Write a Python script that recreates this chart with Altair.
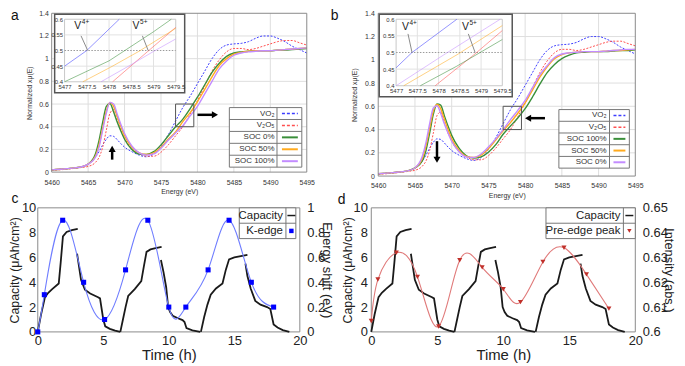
import altair as alt
import pandas as pd

FONT = "Liberation Sans, DejaVu Sans, Arial, sans-serif"

# ---------------- XANES spectra (panels a, b) ----------------
energy = [5460, 5462, 5464, 5465, 5466, 5466.5, 5467, 5467.5, 5468, 5468.5, 5469, 5469.5, 5470, 5471, 5472,
          5473, 5474, 5475, 5476, 5477, 5478, 5479, 5480, 5481, 5482, 5483, 5484, 5485, 5486, 5487,
          5488, 5489, 5490, 5491, 5492, 5493, 5494, 5495]
vo2 = [0.02, 0.03, 0.045, 0.07, 0.13, 0.18, 0.24, 0.29, 0.32, 0.315, 0.285, 0.25, 0.22, 0.18, 0.15,
       0.135, 0.16, 0.23, 0.33, 0.45, 0.57, 0.67, 0.78, 0.89, 1.0, 1.08, 1.12, 1.13, 1.135, 1.15,
       1.18, 1.2, 1.2, 1.18, 1.15, 1.11, 1.08, 1.05]
v2o5 = [0.015, 0.025, 0.04, 0.05, 0.085, 0.13, 0.22, 0.37, 0.52, 0.55, 0.46, 0.37, 0.30, 0.21, 0.165,
        0.14, 0.14, 0.175, 0.24, 0.32, 0.40, 0.51, 0.63, 0.76, 0.89, 0.99, 1.06, 1.09, 1.09, 1.08,
        1.09, 1.11, 1.13, 1.15, 1.16, 1.16, 1.14, 1.12]
a_soc0 = [0.02, 0.03, 0.045, 0.07, 0.16, 0.28, 0.44, 0.58, 0.605, 0.53, 0.44, 0.36, 0.29, 0.20, 0.16,
          0.155, 0.18, 0.24, 0.32, 0.40, 0.467, 0.56, 0.66, 0.77, 0.88, 0.96, 1.02, 1.05, 1.06, 1.065,
          1.07, 1.07, 1.07, 1.075, 1.075, 1.08, 1.085, 1.09]
a_soc50 = [0.02, 0.03, 0.045, 0.07, 0.14, 0.24, 0.39, 0.54, 0.615, 0.58, 0.49, 0.40, 0.32, 0.22, 0.17,
           0.155, 0.17, 0.22, 0.29, 0.355, 0.445, 0.525, 0.62, 0.73, 0.84, 0.94, 1.0, 1.04, 1.055, 1.065,
           1.07, 1.07, 1.07, 1.075, 1.08, 1.085, 1.09, 1.095]
a_soc100 = [0.02, 0.03, 0.045, 0.07, 0.13, 0.22, 0.37, 0.52, 0.615, 0.60, 0.51, 0.42, 0.34, 0.23, 0.17,
            0.15, 0.16, 0.21, 0.28, 0.345, 0.41, 0.495, 0.58, 0.69, 0.80, 0.91, 0.98, 1.03, 1.05, 1.06,
            1.065, 1.07, 1.07, 1.075, 1.08, 1.085, 1.09, 1.095]
b_soc100 = [0.02, 0.03, 0.045, 0.07, 0.13, 0.22, 0.37, 0.53, 0.62, 0.61, 0.52, 0.43, 0.35, 0.24, 0.175,
            0.155, 0.165, 0.205, 0.27, 0.36, 0.43, 0.50, 0.58, 0.68, 0.79, 0.89, 0.96, 1.01, 1.04, 1.06,
            1.065, 1.07, 1.07, 1.07, 1.075, 1.08, 1.08, 1.085]
b_soc50 = [0.02, 0.03, 0.045, 0.07, 0.15, 0.26, 0.41, 0.56, 0.615, 0.58, 0.49, 0.40, 0.32, 0.22, 0.17,
           0.16, 0.18, 0.235, 0.31, 0.39, 0.46, 0.54, 0.63, 0.74, 0.85, 0.94, 1.01, 1.045, 1.06, 1.065,
           1.07, 1.07, 1.07, 1.075, 1.08, 1.08, 1.085, 1.09]
b_soc0 = [0.02, 0.03, 0.045, 0.07, 0.17, 0.29, 0.45, 0.585, 0.605, 0.54, 0.45, 0.37, 0.30, 0.21, 0.165,
          0.16, 0.19, 0.25, 0.32, 0.40, 0.485, 0.565, 0.65, 0.76, 0.87, 0.95, 1.02, 1.05, 1.06, 1.065,
          1.07, 1.07, 1.07, 1.075, 1.08, 1.085, 1.09, 1.09]
energy_ticks = [5460, 5465, 5470, 5475, 5480, 5485, 5490, 5495]
xmu_ticks = [0, 0.2, 0.4, 0.6, 0.8, 1.0, 1.2, 1.4]

# inset (zoom window) readings
inset_e_domain = [5477, 5479.5]
inset_v_domain = [0.4, 0.6]
inset_e_ticks = [5477, 5477.5, 5478, 5478.5, 5479, 5479.5]
inset_v_ticks = [0.4, 0.45, 0.5, 0.55, 0.6]
ia_vo2_e, ia_vo2_v = [5477, 5477.5, 5478.23], [0.45, 0.50, 0.60]
ia_v2o5_e, ia_v2o5_v = [5478.08, 5478.87, 5479.5], [0.40, 0.497, 0.574]
ia_soc0_e, ia_soc0_v = [5477, 5478, 5479, 5479.4], [0.40, 0.467, 0.56, 0.60]
ia_soc50_e, ia_soc50_v = [5477.41, 5478.04, 5478.68, 5479.5], [0.40, 0.447, 0.498, 0.571]
ia_soc100_e, ia_soc100_v = [5477.82, 5478.5, 5479.0, 5479.5], [0.40, 0.455, 0.497, 0.537]
ib_vo2_e, ib_vo2_v = [5477, 5477.375, 5478.43], [0.454, 0.5, 0.6]
ib_v2o5_e, ib_v2o5_v = [5477.92, 5478.86, 5479.5], [0.40, 0.496, 0.566]
ib_soc100_e, ib_soc100_v = [5477.57, 5478.43, 5479.5], [0.40, 0.459, 0.539]
ib_soc50_e, ib_soc50_v = [5477.18, 5478.47, 5479.5], [0.40, 0.496, 0.581]
ib_soc0_e, ib_soc0_v = [5477, 5478.16, 5479.45], [0.40, 0.496, 0.60]

# ---------------- cycling (panels c, d) ----------------
cap_segments_t = [
    [0, 0.25, 0.55, 0.8, 1.1, 1.6, 1.75, 1.92, 2.2, 2.6, 3.05],
    [3.0, 3.3, 3.6, 4.0, 4.6, 4.75, 5.0, 5.15, 5.5, 5.9, 6.3],
    [6.3, 6.5, 6.7, 6.9, 7.4, 7.9, 8.1, 8.3, 8.6, 9.0, 9.45],
    [9.4, 9.6, 9.8, 9.95, 10.1, 10.3, 10.7, 11.05, 11.2, 11.35, 11.8, 12.4],
    [12.45, 12.7, 12.95, 13.2, 13.6, 14.1, 14.35, 14.6, 15.0, 15.5, 16.0],
    [15.85, 16.0, 16.25, 16.6, 17.0, 17.5, 17.75, 18.0, 18.3, 18.7, 19.2],
]
cap_segments_v = [
    [0, 1.4, 2.8, 3.15, 3.45, 3.9, 5.6, 7.7, 8.05, 8.2, 8.3],
    [6.3, 4.2, 3.4, 3.1, 2.8, 2.7, 1.0, 0.45, 0.25, 0.1, 0.0],
    [0, 1.0, 2.0, 2.9, 3.45, 4.1, 5.3, 6.45, 6.65, 6.75, 6.85],
    [5.8, 4.8, 3.6, 2.0, 1.6, 1.3, 1.1, 0.95, 0.8, 0.3, 0.12, 0.0],
    [0, 1.2, 2.2, 3.0, 3.5, 3.9, 5.0, 5.85, 6.0, 6.1, 6.2],
    [5.5, 4.5, 3.5, 2.5, 2.2, 2.0, 1.85, 0.6, 0.35, 0.15, 0.0],
]
xas_time = [0, 0.5, 1.9, 3.5, 5.1, 6.7, 8.4, 10.0, 11.3, 13.0, 14.6, 16.3, 18.0]
kedge_shift = [0, 0.3, 0.9, 0.4, 0.1, 0.5, 0.9, 0.2, 0.2, 0.5, 0.9, 0.4, 0.2]
preedge_int = [0.6044, 0.6211, 0.6319, 0.6222, 0.6022, 0.6289, 0.626, 0.6172, 0.612, 0.6282, 0.6339,
               0.6232, 0.6094]
time_ticks = [0, 5, 10, 15, 20]
cap_ticks = [0, 2, 4, 6, 8, 10]
shift_ticks = [0, 0.2, 0.4, 0.6, 0.8, 1.0]
intensity_ticks = [0.6, 0.61, 0.62, 0.63, 0.64, 0.65]

C_VO2 = "#3d3dff"
C_V2O5 = "#ff5050"
C_GREEN = "#3a8f3a"
C_ORANGE = "#ffaa1e"
C_VIOLET = "#c38cff"

VW, VH = 672, 350
DUMMY = pd.DataFrame({"d": [0]})


def S(domain, rng):
    return alt.Scale(domain=domain, range=rng, nice=False, zero=False)


def vtext(txt, x, y, size, align="center", baseline="middle", color="#222"):
    return alt.Chart(DUMMY).mark_text(text=txt, fontSize=size, align=align, baseline=baseline,
                                      color=color, font=FONT).encode(x=alt.value(x), y=alt.value(y))


def vrule(x1, y1, x2, y2, color="#777", width=1.0, dash=None):
    kw = dict(color=color, strokeWidth=width)
    if dash:
        kw["strokeDash"] = dash
    return alt.Chart(DUMMY).mark_rule(**kw).encode(
        x=alt.value(x1), y=alt.value(y1), x2=alt.value(x2), y2=alt.value(y2))


def vrect(x1, y1, x2, y2, fill="white", stroke="#777", width=1.0):
    return alt.Chart(DUMMY).mark_rect(fill=fill, stroke=stroke, strokeWidth=width).encode(
        x=alt.value(x1), y=alt.value(y1), x2=alt.value(x2), y2=alt.value(y2))


def vpoint(x, y, shape, color, size):
    return alt.Chart(DUMMY).mark_point(shape=shape, filled=True, color=color, size=size, opacity=1).encode(
        x=alt.value(x), y=alt.value(y))


def long_df(series):
    rows = []
    for name, xv, vals, color in series:
        for x, v in zip(xv, vals):
            rows.append({"E": x, "v": v, "s": name, "c": color})
    return pd.DataFrame(rows)


def box_df(x1, x2, y1, y2):
    return pd.DataFrame({"E": [x1], "E2": [x2], "v": [y1], "v2": [y2]})


AB = dict(grid=False, ticks=False, domain=False, labelFontSize=7, titleFontSize=7, labelColor="#333",
          titleColor="#333", titleFontWeight="normal", labelOverlap=False, labelFlush=False, labelBound=False)


def spectra(p):
    (x0, x1), (yb, yt) = p["px"], p["py"]
    xs = S([5460, 5495], [x0, x1])
    ys = S([0, 1.4], [yb, yt])
    xax = alt.Axis(orient="bottom", offset=yb - VH, values=energy_ticks, format="d", title="Energy (eV)",
                   labelPadding=p["xlp"], titlePadding=p["xtp"], **AB)
    yax = alt.Axis(orient="left", offset=-x0, values=xmu_ticks, format="~f", title="Normalized xμ(E)",
                   labelPadding=p["ylp"], titlePadding=p["ytp"], **AB)

    def X(f="E"):
        return alt.X(f"{f}:Q", scale=xs, axis=xax)

    def Y(f="v"):
        return alt.Y(f"{f}:Q", scale=ys, axis=yax)

    gx = alt.Chart(pd.DataFrame({"E": energy_ticks[1:-1]})).mark_rule(color="#dedede", strokeWidth=1).encode(
        x=X(), y=alt.datum(0), y2=alt.datum(1.4))
    gy = alt.Chart(pd.DataFrame({"v": xmu_ticks[1:-1]})).mark_rule(color="#dedede", strokeWidth=1).encode(
        y=Y(), x=alt.datum(5460), x2=alt.datum(5495))
    frame = alt.Chart(box_df(5460, 5495, 0, 1.4)).mark_rect(fill="white", fillOpacity=0, stroke="#8a8a8a",
                                                           strokeWidth=1).encode(
        x=X(), x2="E2:Q", y=Y(), y2="v2:Q")
    ref_df = long_df([("VO2", energy, vo2, C_VO2), ("V2O5", energy, v2o5, C_V2O5)])
    dashed = alt.Chart(ref_df).mark_line(strokeWidth=1, strokeDash=[2, 1.5], interpolate="monotone").encode(
        x=X(), y=Y(), color=alt.Color("c:N", scale=None), detail="s:N")
    solid = alt.Chart(long_df(p["soc"])).mark_line(strokeWidth=1.4, interpolate="monotone").encode(
        x=X(), y=Y(), color=alt.Color("c:N", scale=None), detail="s:N")
    zoom = alt.Chart(box_df(inset_e_domain[0], inset_e_domain[1], inset_v_domain[0], inset_v_domain[1])).mark_rect(
        fill="white", fillOpacity=0, stroke="#555", strokeWidth=1).encode(x=X(), x2="E2:Q", y=Y(), y2="v2:Q")
    main = [gx, gy, dashed, solid, frame, zoom]
    for (ax1, ay1, ax2, ay2, shape) in p["arrows"]:
        main.append(alt.Chart(box_df(ax1, ax2, ay1, ay2)).mark_rule(color="black", strokeWidth=2.5).encode(
            x=X(), x2="E2:Q", y=Y(), y2="v2:Q"))
        main.append(alt.Chart(pd.DataFrame({"E": [ax2], "v": [ay2]})).mark_point(
            shape=shape, filled=True, color="black", size=50, opacity=1).encode(x=X(), y=Y()))
    out = [alt.layer(*main)]

    bx0, bx1, by0, by1 = p["inset_box"]
    out.append(vrect(bx0, by0, bx1, by1, fill="white", stroke="#555", width=1.5))

    # inset
    (ix0, ix1), (iyb, iyt) = p["ipx"], p["ipy"]
    ixs = S(inset_e_domain, [ix0, ix1])
    iys = S(inset_v_domain, [iyb, iyt])
    ic = dict(AB, labelFontSize=6, zindex=1)
    ixax = alt.Axis(orient="bottom", offset=iyb - VH, values=inset_e_ticks, format="~f", title=None,
                    labelPadding=2, **ic)
    iyax = alt.Axis(orient="left", offset=-ix0, values=inset_v_ticks, format="~f", title=None,
                    labelPadding=2, **ic)

    def IX(f="E"):
        return alt.X(f"{f}:Q", scale=ixs, axis=ixax)

    def IY(f="v"):
        return alt.Y(f"{f}:Q", scale=iys, axis=iyax)

    iframe = alt.Chart(box_df(inset_e_domain[0], inset_e_domain[1], inset_v_domain[0], inset_v_domain[1])).mark_rect(
        fill="white", stroke="#c8c8c8", strokeWidth=1).encode(x=IX(), x2="E2:Q", y=IY(), y2="v2:Q")
    igx = alt.Chart(pd.DataFrame({"E": inset_e_ticks[1:-1]})).mark_rule(color="#e2e2e2", strokeWidth=1).encode(
        x=IX(), y=alt.datum(inset_v_domain[0]), y2=alt.datum(inset_v_domain[1]))
    igy = alt.Chart(pd.DataFrame({"v": [0.45, 0.55]})).mark_rule(color="#e2e2e2", strokeWidth=1).encode(
        y=IY(), x=alt.datum(inset_e_domain[0]), x2=alt.datum(inset_e_domain[1]))
    half = alt.Chart(pd.DataFrame({"v": [0.5]})).mark_rule(color="#999", strokeWidth=1,
                                                          strokeDash=[1.5, 1.5]).encode(
        y=IY(), x=alt.datum(inset_e_domain[0]), x2=alt.datum(inset_e_domain[1]))
    ilines = alt.Chart(long_df(p["inset"])).mark_line(strokeWidth=1, opacity=0.55).encode(
        x=IX(), y=IY(), color=alt.Color("c:N", scale=None), detail="s:N")
    ins = [iframe, igx, igy, half, ilines]
    for (tx, ty, lx1, ly1, lx2, ly2, sup) in p["vlabels"]:
        ins.append(alt.Chart(box_df(lx1, lx2, ly1, ly2)).mark_rule(color="#8a8a8a", strokeWidth=1).encode(
            x=IX(), x2="E2:Q", y=IY(), y2="v2:Q"))
        tdf = pd.DataFrame({"E": [tx], "v": [ty]})
        ins.append(alt.Chart(tdf).mark_text(text="V", fontSize=10.5, align="left", baseline="middle",
                                            color="#222", font=FONT).encode(x=IX(), y=IY()))
        ins.append(alt.Chart(tdf).mark_text(text=sup, fontSize=6.5, align="left", baseline="middle",
                                            color="#222", font=FONT, dx=7.5, dy=-4).encode(x=IX(), y=IY()))
    out.append(alt.layer(*ins))

    # legend
    L = p["legend"]
    rows = p["legend_rows"]
    rh = (L["y1"] - L["y0"]) / len(rows)
    out.append(vrect(L["x0"], L["y0"], L["x1"], L["y1"], fill="white", stroke="#777", width=1))
    out.append(vrule(L["xd"], L["y0"], L["xd"], L["y1"], color="#777", width=1))
    for i, (lab, col, dsh) in enumerate(rows):
        yc = L["y0"] + rh * (i + 0.5)
        if i > 0:
            out.append(vrule(L["x0"], L["y0"] + rh * i, L["x1"], L["y0"] + rh * i, color="#777", width=1))
        out.append(vtext(lab, L["lab_r"], yc, 8, align="right", color="#333"))
        out.append(vrule(L["s0"], yc, L["s1"], yc, color=col, width=1.5 if dsh else 2,
                         dash=[3, 2] if dsh else None))
    lx, ly, lt = p["letter"]
    out.append(vtext(lt, lx, ly, 14, color="#111"))
    return out


cap_rows = []
for k, (ts, vs) in enumerate(zip(cap_segments_t, cap_segments_v)):
    for t, v in zip(ts, vs):
        cap_rows.append({"t": t, "v": v, "seg": k})
cap_df = pd.DataFrame(cap_rows)

CD = dict(grid=False, ticks=False, domain=False, labelFontSize=13, titleFontSize=13,
          labelColor="#222", titleColor="#222", titleFontWeight="normal", labelOverlap=False,
          labelFlush=False, labelBound=False)


def cycle(p):
    (x0, x1), (yb, yt) = p["px"], p["py"]
    xs = S([0, 20], [x0, x1])
    ys = S([0, 10], [yb, yt])
    rys = S(p["right_domain"], [yb, yt])
    xax = alt.Axis(orient="bottom", offset=yb - VH, values=time_ticks, format="d", title="Time (h)",
                   labelPadding=2.5, titlePadding=0.5, **dict(CD, titleFontSize=15))
    yax = alt.Axis(orient="left", offset=-x0, values=cap_ticks, format="d", title="Capacity (μAh/cm²)",
                   labelPadding=p["llp"], titlePadding=p["ltp"], **dict(CD, titleFontSize=12.5))
    rax = alt.Axis(orient="right", offset=x1 - VW, values=p["right_ticks"], format="~f",
                   title=p["right_title"], labelPadding=p["rlp"], titlePadding=p["rtp"], **CD)
    frame = alt.Chart(pd.DataFrame({"t": [0], "t2": [20], "v": [0], "v2": [10]})).mark_rect(
        fill="white", fillOpacity=0, stroke="#8a8a8a", strokeWidth=1).encode(
        x=alt.X("t:Q", scale=xs, axis=xax), x2="t2:Q", y=alt.Y("v:Q", scale=ys, axis=yax), y2="v2:Q")
    cap = alt.Chart(cap_df).mark_line(color="#1a1a1a", strokeWidth=1.8).encode(
        x=alt.X("t:Q", scale=xs, axis=xax), y=alt.Y("v:Q", scale=ys, axis=yax), detail="seg:N")
    rdf = pd.DataFrame({"t": p["rt"], "r": p["right_vals"]})
    rl = alt.Chart(rdf).mark_line(color=p["line_color"], strokeWidth=1.1, interpolate="natural").encode(
        x=alt.X("t:Q", scale=xs, axis=None), y=alt.Y("r:Q", scale=rys, axis=rax))
    rp = alt.Chart(rdf).mark_point(shape=p["shape"], filled=True, color=p["pt_color"], size=26,
                                   opacity=1).encode(
        x=alt.X("t:Q", scale=xs, axis=None), y=alt.Y("r:Q", scale=rys, axis=rax))
    out = [alt.layer(frame, cap), alt.layer(rl, rp)]
    L = p["legend"]
    ym = (L["y0"] + L["y1"]) / 2
    out += [
        vrect(L["x0"], L["y0"], L["x1"], L["y1"], fill="white", stroke="#777", width=1),
        vrule(L["x0"], ym, L["x1"], ym, color="#777", width=1),
        vrule(L["xd"], L["y0"], L["xd"], L["y1"], color="#777", width=1),
        vtext("Capacity", L["lab_r"], (L["y0"] + ym) / 2, 11.5, align="right"),
        vtext(p["legend_label"], L["lab_r"], (ym + L["y1"]) / 2, 11.5, align="right"),
        vrule(L["sx"] - 4, (L["y0"] + ym) / 2, L["sx"] + 4, (L["y0"] + ym) / 2, color="#1a1a1a", width=1.5),
        vpoint(L["sx"], (ym + L["y1"]) / 2, p["shape"], p["pt_color"], 20),
    ]
    lx, ly, lt = p["letter"]
    out.append(vtext(lt, lx, ly, 14, color="#111"))
    return out


layers = []
layers += spectra(dict(
    px=(42, 299), py=(164, 4), xlp=6, xtp=2.5, ylp=3.3, ytp=6.5,
    soc=[("SOC 0%", energy, a_soc0, C_GREEN), ("SOC 50%", energy, a_soc50, C_ORANGE),
         ("SOC 100%", energy, a_soc100, C_VIOLET)],
    inset=[("VO2", ia_vo2_e, ia_vo2_v, C_VO2), ("V2O5", ia_v2o5_e, ia_v2o5_v, C_V2O5),
           ("SOC 0%", ia_soc0_e, ia_soc0_v, C_GREEN), ("SOC 50%", ia_soc50_e, ia_soc50_v, C_ORANGE),
           ("SOC 100%", ia_soc100_e, ia_soc100_v, C_VIOLET)],
    arrows=[(5480.0, 0.505, 5482.4, 0.505, "triangle-right"), (5468.3, 0.11, 5468.3, 0.205, "triangle-up")],
    inset_box=(45, 176, 5, 84), ipx=(55, 167), ipy=(73, 10),
    legend=dict(x0=221, x1=294, xd=269, y0=99, y1=159, lab_r=266.5, s0=274, s1=290),
    legend_rows=[("VO₂", C_VO2, True), ("V₂O₅", C_V2O5, True), ("SOC 0%", C_GREEN, False),
                 ("SOC 50%", C_ORANGE, False), ("SOC 100%", C_VIOLET, False)],
    vlabels=[(5477.22, 0.577, 5477.37, 0.547, 5477.52, 0.5, "4+"),
             (5478.53, 0.577, 5478.75, 0.547, 5478.88, 0.5, "5+")],
    letter=(5, 7, "a"),
))
layers += spectra(dict(
    px=(371, 630), py=(168, 4), xlp=5.5, xtp=3, ylp=4, ytp=7,
    soc=[("SOC 100%", energy, b_soc100, C_GREEN), ("SOC 50%", energy, b_soc50, C_ORANGE),
         ("SOC 0%", energy, b_soc0, C_VIOLET)],
    inset=[("VO2", ib_vo2_e, ib_vo2_v, C_VO2), ("V2O5", ib_v2o5_e, ib_v2o5_v, C_V2O5),
           ("SOC 100%", ib_soc100_e, ib_soc100_v, C_GREEN), ("SOC 50%", ib_soc50_e, ib_soc50_v, C_ORANGE),
           ("SOC 0%", ib_soc0_e, ib_soc0_v, C_VIOLET)],
    arrows=[(5482.7, 0.498, 5480.4, 0.498, "triangle-left"), (5468.0, 0.30, 5468.0, 0.14, "triangle-down")],
    inset_box=(372, 506, 5, 88), ipx=(389, 496), ipy=(77, 10),
    legend=dict(x0=553, x1=624, xd=604, y0=101, y1=160, lab_r=601, s0=608, s1=620),
    legend_rows=[("VO₂", C_VO2, True), ("V₂O₅", C_V2O5, True), ("SOC 100%", C_GREEN, False),
                 ("SOC 50%", C_ORANGE, False), ("SOC 0%", C_VIOLET, False)],
    vlabels=[(5477.14, 0.578, 5477.28, 0.556, 5477.375, 0.5, "4+"),
             (5478.55, 0.578, 5478.70, 0.556, 5478.86, 0.5, "5+")],
    letter=(327, 7, "b"),
))
layers += cycle(dict(
    px=(28, 292), py=(325, 200), llp=2, ltp=0, rlp=7, rtp=-5.5,
    rt=xas_time, right_vals=kedge_shift, right_domain=[0, 1], right_ticks=shift_ticks,
    right_title="Energy shift (eV)", line_color="#6f7dff", pt_color="#0000ff", shape="square",
    legend=dict(x0=231, x1=288, xd=278, y0=200, y1=231, lab_r=275, sx=283.5),
    legend_label="K-edge", letter=(5, 191, "c"),
))
layers += cycle(dict(
    px=(364, 630), py=(325, 200), llp=4, ltp=-2, rlp=7, rtp=-6,
    rt=xas_time, right_vals=preedge_int, right_domain=[0.6, 0.65], right_ticks=intensity_ticks,
    right_title="Intensity (abs.)", line_color="#e07a7a", pt_color="#c0302a", shape="triangle-down",
    legend=dict(x0=540, x1=630, xd=618, y0=200, y1=231, lab_r=615, sx=624),
    legend_label="Pre-edge peak", letter=(334, 192, "d"),
))

chart = alt.layer(*layers).resolve_scale(x="independent", y="independent").properties(
    width=VW, height=VH, padding=0
).configure(font=FONT).configure_view(strokeWidth=0).configure_axis(labelOverlap=False)

chart.save("out.html", embed_options={"renderer": "svg", "actions": False})
